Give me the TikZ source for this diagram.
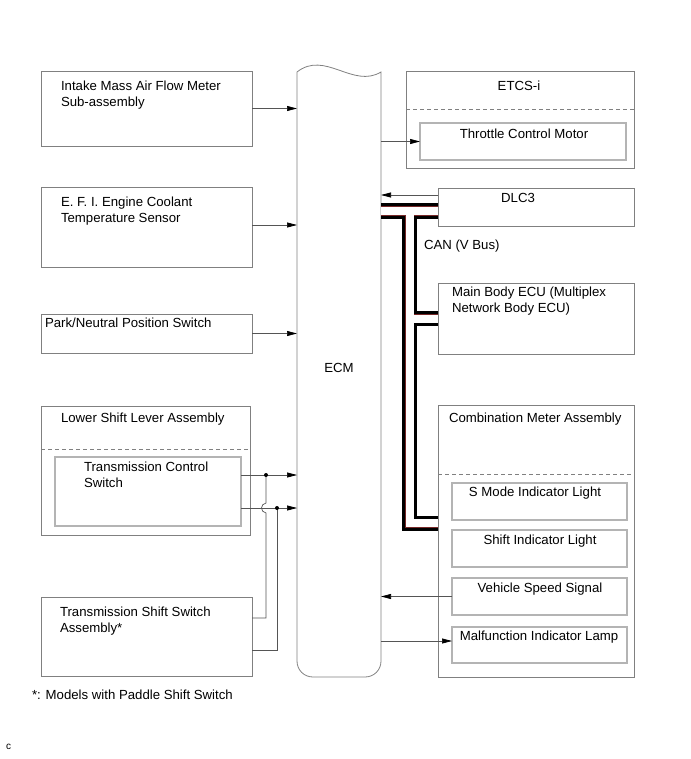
\documentclass[tikz,border=0pt]{standalone}
\usepackage{fontspec}
\setmainfont{Liberation Sans}
\usetikzlibrary{arrows.meta}
\definecolor{boxgray}{RGB}{128,128,128}
\definecolor{innergray}{RGB}{180,180,180}
\definecolor{wiregray}{RGB}{85,85,85}
\definecolor{busred}{RGB}{120,40,40}
\tikzset{
  box/.style={draw=boxgray, line width=0.8pt, rectangle, inner sep=0pt, outer sep=0pt, anchor=north west},
  ibox/.style={draw=innergray, line width=1.1pt, rectangle, inner sep=0pt, outer sep=0pt, anchor=north west},
  txt/.style={inner sep=0pt, outer sep=0pt, align=left, font=\fontsize{13.2}{16}\selectfont, anchor=north west},
  ctxt/.style={txt, align=center, anchor=north},
  conn/.style={draw=wiregray, line width=0.7pt, -{Triangle[length=10pt,width=5pt,color=black]}},
  wire/.style={draw=wiregray, line width=0.7pt},
  dashln/.style={draw=boxgray, line width=0.7pt, dash pattern=on 4pt off 3pt},
  ecmline/.style={draw=boxgray, line width=0.8pt},
  busK/.style={line width=15pt, draw=black, line cap=butt, line join=miter},
  busR/.style={line width=9pt, draw=busred, line cap=butt, line join=miter},
  busW/.style={line width=8pt, draw=white, line cap=butt, line join=miter},
}
\begin{document}
\begin{tikzpicture}[x=1pt,y=-1pt]
\useasboundingbox (0,0) rectangle (690,759);

% ---------- left boxes ----------
\node[box, minimum width=211pt, minimum height=75pt] (intake) at (41,71) {};
\node[box, minimum width=211pt, minimum height=80pt] (efi) at (41,187) {};
\node[box, minimum width=211pt, minimum height=39pt] (park) at (41,314) {};
\node[box, minimum width=209pt, minimum height=129pt] (lsla) at (41,406) {};
\node[ibox, minimum width=186pt, minimum height=69pt] (tcs) at (55,457) {};
\node[box, minimum width=211pt, minimum height=79pt] (tss) at (41,597) {};

\coordinate (lslad) at (41,449);
\draw[dashln] (lslad) -- (lslad -| lsla.east);

\node[txt] (tIntake) at (61,81) {Intake Mass Air Flow Meter\\Sub-assembly};
\node[txt] (tEfi) at (61,197) {E. F. I. Engine Coolant\\Temperature Sensor};
\node[txt] (tPark) at (45,318) {Park/Neutral Position Switch};
\node[txt] (tLsla) at (61,413) {Lower Shift Lever Assembly};
\node[txt] (tTcs) at (84,462) {Transmission Control\\Switch};
\node[txt] (tTss) at (60,607) {Transmission Shift Switch\\Assembly*};

% ---------- ECM ----------
\node[minimum width=84pt, minimum height=606pt, inner sep=0pt, outer sep=0pt,
      font=\fontsize{13.2}{16}\selectfont] (ecm) at (339,368) {ECM};
\draw[ecmline] (297,72) .. controls (325,50) and (353,89) .. (381,72)
  -- (381,661) .. controls (381,670) and (374,677) .. (365,677)
  -- (313,677) .. controls (304,677) and (297,670) .. (297,661) -- cycle;

% ---------- right boxes ----------
\node[box, minimum width=228pt, minimum height=97pt] (etcs) at (406,71) {};
\node[ibox, minimum width=206pt, minimum height=37pt] (tcm) at (420,123) {};
\node[box, minimum width=196pt, minimum height=38pt] (dlc) at (438,188) {};
\node[box, minimum width=196pt, minimum height=71pt] (mbe) at (438,283) {};
\node[box, minimum width=196pt, minimum height=272pt] (cma) at (438,405) {};
\node[ibox, minimum width=175pt, minimum height=37pt] (smode) at (452,483) {};
\node[ibox, minimum width=175pt, minimum height=37pt] (sil) at (452,530) {};
\node[ibox, minimum width=175pt, minimum height=37pt] (vss) at (452,578) {};
\node[ibox, minimum width=175pt, minimum height=36pt] (mil) at (452,627) {};

\coordinate (etcsd) at (406,109);
\draw[dashln] (etcsd) -- (etcsd -| etcs.east);
\coordinate (cmad) at (438,474);
\draw[dashln] (cmad) -- (cmad -| cma.east);

\node[ctxt] (tEtcs) at (519,81) {ETCS-i};
\node[ctxt] (tTcm) at (524,129) {Throttle Control Motor};
\node[ctxt] (tDlc) at (518,193) {DLC3};
\node[txt] (tCan) at (424,240) {CAN (V Bus)};
\node[txt] (tMbe) at (452,287) {Main Body ECU (Multiplex\\Network Body ECU)};
\node[txt] (tCma) at (449,413) {Combination Meter Assembly};
\node[ctxt] (tSmode) at (535,487) {S Mode Indicator Light};
\node[ctxt] (tSil) at (540,535) {Shift Indicator Light};
\node[ctxt] (tVss) at (540,583) {Vehicle Speed Signal};
\node[ctxt] (tMil) at (539,631) {Malfunction Indicator Lamp};

% ---------- footnotes ----------
\node[txt] (tNote) at (32,690) {*: Models with Paddle Shift Switch};
\node[txt, font=\fontsize{10}{12}\selectfont] (tCode) at (6,744) {c};

% ---------- connectors left ----------
\draw[conn] (intake.east) -- (intake.east -| ecm.west);
\draw[conn] ([yshift=2pt]efi.east) -- ([yshift=2pt]efi.east -| ecm.west);
\draw[conn] (park.east) -- (park.east -| ecm.west);

\coordinate (j1) at (266,475);
\coordinate (j2) at (277,508);
\coordinate (k1) at (266,618);
\coordinate (k2) at (277,650);
\draw[wire] (tcs.east |- j1) -- (j1);
\draw[conn] (j1) -- (j1 -| ecm.west);
\draw[wire] (tcs.east |- j2) -- (j2);
\draw[conn] (j2) -- (j2 -| ecm.west);
\draw[wire] (j1) -- (266,503) .. controls (260,504) and (260,512) .. (266,513)
  -- (k1) -- (k1 -| tss.east);
\draw[wire] (j2) -- (k2) -- (k2 -| tss.east);
\fill (j1) circle (2pt);
\fill (j2) circle (2pt);

% ---------- connectors right ----------
\draw[conn] (tcm.west -| ecm.east) -- (tcm.west);
\coordinate (dlin) at ([yshift=12pt]dlc.west);
\draw[conn] (dlin) -- (dlin -| ecm.east);
\draw[conn] (vss.west) -- (vss.west -| ecm.east);
\coordinate (mila) at ([yshift=4pt]mil.west);
\draw[conn] (mila -| ecm.east) -- (mila);

% ---------- CAN bus ----------
\coordinate (busT) at (409.5,211);
\coordinate (busM) at (409.5,318.5);
\coordinate (busB) at (409.5,523);
\foreach \st in {busK,busR,busW}{
  \draw[\st] (busT -| ecm.east) -- (busT -| dlc.west);
  \draw[\st] (busT) -- (busB) -- (busB -| cma.west);
  \draw[\st] (busM) -- (busM -| mbe.west);
}
\end{tikzpicture}
\end{document}
